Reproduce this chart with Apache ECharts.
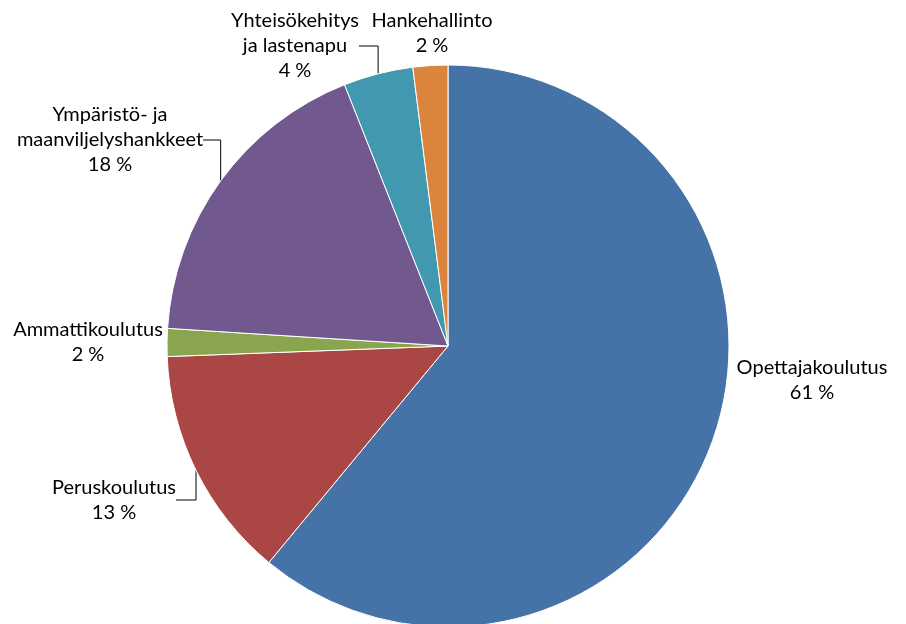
<!DOCTYPE html>
<html>
<head>
<meta charset="utf-8">
<script src="https://cdn.jsdelivr.net/npm/echarts@6/dist/echarts.min.js"></script>
<style>
  html, body { margin: 0; padding: 0; background: #fff; }
  #chart { width: 906px; height: 624px; }
</style>
</head>
<body>
<div id="chart"></div>
<script>
var categories = ['Opettajakoulutus', 'Peruskoulutus', 'Ammattikoulutus', 'Ympäristö- ja\nmaanviljelyshankkeet', 'Yhteisökehitys\nja lastenapu', 'Hankehallinto'];
var shares = [61.0, 13.4, 1.6, 18.0, 4.0, 2.0];
var colors = ['#4572A7', '#AA4643', '#89A54E', '#71588F', '#4198AF', '#DB843D'];

// label centres, excel style
var labelPos = [[812, 380], [114, 500], [88, 342], [110, 140], [295, 46], [432, 33]];
var withLine = [false, true, false, true, true, false];

var myChart = echarts.init(document.getElementById('chart'));

var data = categories.map(function (name, i) {
    return {
        name: name,
        value: shares[i],
        itemStyle: {color: colors[i]},
        labelLine: {show: withLine[i]}
    };
});

var option = {
    animation: false,
    series: [{
        type: 'pie',
        center: [448, 346],
        radius: 281,
        startAngle: 90,
        clockwise: true,
        avoidLabelOverlap: false,
        itemStyle: {borderColor: '#fff', borderWidth: 1},
        label: {
            show: true,
            color: '#000',
            fontFamily: 'Lato, sans-serif',
            fontSize: 20,
            lineHeight: 25,
            align: 'center',
            overflow: 'none',
            formatter: function (p) {
                return p.name + '\n' + Math.round(p.value) + ' %';
            }
        },
        labelLine: {
            show: false,
            lineStyle: {color: '#000', width: 1}
        },
        labelLayout: function (p) {
            var pos = labelPos[p.dataIndex];
            return {x: pos[0], y: pos[1], align: 'center', verticalAlign: 'middle'};
        },
        emphasis: {disabled: true},
        data: data
    }]
};

myChart.setOption(option);
</script>
</body>
</html>
